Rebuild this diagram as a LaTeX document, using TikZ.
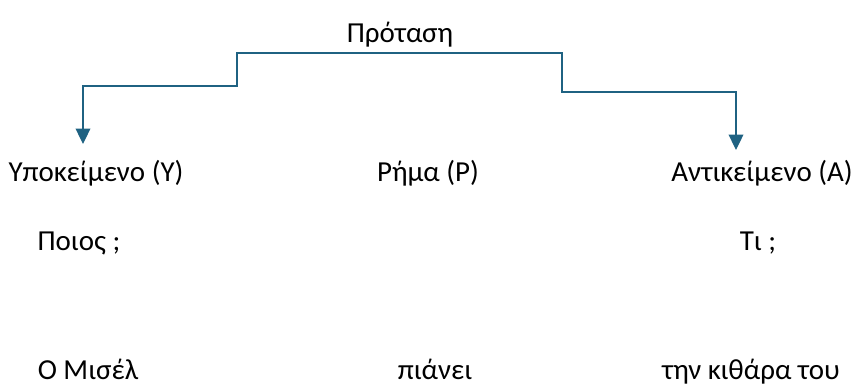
\documentclass[tikz,border=0pt]{standalone}
\usepackage{fontspec}
\setmainfont{Carlito}
\usepackage{tikz}
\usetikzlibrary{arrows.meta,%
                positioning}
\definecolor{linkblue}{RGB}{31,98,130}
\tikzset{word/.style={anchor=base,inner sep=0pt,font=\fontsize{20.6}{25}\selectfont},
         link/.style={draw=linkblue,line width=0.9pt,-{Triangle[width=10.5pt,length=11pt]}}}

\begin{document}
\begin{tikzpicture}[x=0.025cm,y=0.025cm]
\useasboundingbox (0,0) rectangle (859,390);
\node[word] (protasi) at (400,348) {Πρόταση};
\node[word] (ypokeimeno) at (96,209) {Υποκείμενο (Υ)};
\node[word] (rima) at (428,209) {Ρήμα (Ρ)};
\node[word] (antikeimeno) at (762,209) {Αντικείμενο (Α)};
\node[word] (poios) at (79,140) {Ποιος ;};
\node[word] (ti) at (758,140) {Τι ;};
\node[word] (misel) at (88,11) {Ο Μισέλ};
\node[word] (pianei) at (435,11) {πιάνει};
\node[word] (kithara) at (751,11) {την κιθάρα του};

\coordinate (split) at (400,337);
\coordinate (leftend) at (83,246);
\coordinate (rightend) at (736,240);

\draw[link] (split) -| (237,304) -| (leftend);
\draw[link] (split) -| (562,298) -| (rightend);
\end{tikzpicture}
\end{document}
